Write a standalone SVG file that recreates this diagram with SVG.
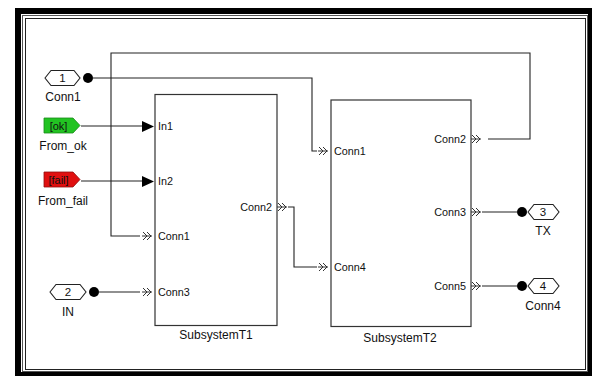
<svg xmlns="http://www.w3.org/2000/svg" width="595" height="379" viewBox="0 0 595 379">
<defs>
<style>
.blk{fill:#fff;stroke:#333;stroke-width:1.2}
.w{fill:none;stroke:#222;stroke-width:1.1}
.cp{fill:none;stroke:#333;stroke-width:1}
.t{font-family:"Liberation Sans",Arial,sans-serif;fill:#111}
.pl{font-size:10.8px}
.bl{font-size:12px}
.hex{fill:#fff;stroke:#222;stroke-width:1.1}
</style>
<path id="chev" d="M-10,-4 L-6,0 L-10,4 M-6,-4 L-2,0 L-6,4 M-11,0 L-1,0"/>
</defs>
<rect width="595" height="379" fill="#fff"/>
<g id="frame">
<rect x="15" y="8" width="577" height="368" fill="#000"/>
<rect x="21" y="14" width="567" height="358" fill="#fff"/>
<rect x="22.5" y="15.5" width="565" height="356" fill="none" stroke="#555" stroke-width="1"/>
<rect x="25.5" y="18.5" width="560" height="351" fill="none" stroke="#222" stroke-width="1"/>
</g>
<g id="connectors">
<polyline class="w" points="93,78 312,78 312,151 317,151"/>
<polyline class="w" points="488,139 530,139 530,53 111,53 111,236 140,236"/>
<polyline class="w" points="81,126 142,126"/>
<polyline class="w" points="81,181 142,181"/>
<polyline class="w" points="99,292 140,292"/>
<polyline class="w" points="288,207 294,207 294,267 317,267"/>
<polyline class="w" points="482,212 517,212"/>
<polyline class="w" points="482,286 517,286"/>
</g>
<g id="Conn1">
<polygon class="hex" points="45,78 51,70.5 74,70.5 80,78 74,85.5 51,85.5"/>
<text class="t" x="62.5" y="82" font-size="11.5" text-anchor="middle">1</text>
<circle cx="88" cy="78" r="5" fill="#000"/>
<text class="t bl" x="63" y="101" text-anchor="middle">Conn1</text>
</g>
<g id="From_ok">
<polygon points="44,118 73,118 80,125.5 73,133 44,133" fill="#22c322" stroke="#1a8a1a" stroke-width="0.8"/>
<text class="t" x="58.5" y="129.5" font-size="11" text-anchor="middle" fill="#103010">[ok]</text>
<text class="t bl" x="63" y="150" text-anchor="middle">From_ok</text>
</g>
<g id="From_fail">
<polygon points="44,172 73,172 80,179.5 73,187 44,187" fill="#e01010" stroke="#901010" stroke-width="0.8"/>
<text class="t" x="58.5" y="183.5" font-size="11" text-anchor="middle" fill="#3a0000">[fail]</text>
<text class="t bl" x="63" y="205" text-anchor="middle">From_fail</text>
</g>
<g id="IN">
<polygon class="hex" points="50,292 56,284.5 80,284.5 86,292 80,299.5 56,299.5"/>
<text class="t" x="68" y="296" font-size="11.5" text-anchor="middle">2</text>
<circle cx="94" cy="292" r="5" fill="#000"/>
<text class="t bl" x="68" y="316" text-anchor="middle">IN</text>
</g>
<g id="SubsystemT1">
<rect class="blk" x="155" y="94.5" width="122" height="231"/>
<polygon points="142,121 142,132 154,126.5" fill="#000"/>
<polygon points="142,176 142,187 154,181.5" fill="#000"/>
<use href="#chev" class="cp" x="153" y="236"/>
<use href="#chev" class="cp" x="153" y="292"/>
<use href="#chev" class="cp" x="288" y="207"/>
<text class="t pl" x="158" y="130">In1</text>
<text class="t pl" x="158" y="185">In2</text>
<text class="t pl" x="158" y="240">Conn1</text>
<text class="t pl" x="158" y="296">Conn3</text>
<text class="t pl" x="272" y="211" text-anchor="end">Conn2</text>
<text class="t bl" x="216" y="339" text-anchor="middle">SubsystemT1</text>
</g>
<g id="SubsystemT2">
<rect class="blk" x="331" y="100" width="140" height="226.5"/>
<use href="#chev" class="cp" x="329" y="151"/>
<use href="#chev" class="cp" x="329" y="267"/>
<use href="#chev" class="cp" x="482" y="139"/>
<use href="#chev" class="cp" x="482" y="212"/>
<use href="#chev" class="cp" x="482" y="286"/>
<text class="t pl" x="334" y="155">Conn1</text>
<text class="t pl" x="334" y="271">Conn4</text>
<text class="t pl" x="466" y="143" text-anchor="end">Conn2</text>
<text class="t pl" x="466" y="216" text-anchor="end">Conn3</text>
<text class="t pl" x="466" y="290" text-anchor="end">Conn5</text>
<text class="t bl" x="400" y="342" text-anchor="middle">SubsystemT2</text>
</g>
<g id="TX">
<circle cx="522" cy="212" r="5" fill="#000"/>
<polygon class="hex" points="528,212 534,204.5 553,204.5 559,212 553,219.5 534,219.5"/>
<text class="t" x="543" y="216" font-size="11.5" text-anchor="middle">3</text>
<text class="t bl" x="543" y="235" text-anchor="middle">TX</text>
</g>
<g id="Conn4">
<circle cx="522" cy="286" r="5" fill="#000"/>
<polygon class="hex" points="528,286 534,278.5 553,278.5 559,286 553,293.5 534,293.5"/>
<text class="t" x="543" y="290" font-size="11.5" text-anchor="middle">4</text>
<text class="t bl" x="543" y="310" text-anchor="middle">Conn4</text>
</g>
</svg>
